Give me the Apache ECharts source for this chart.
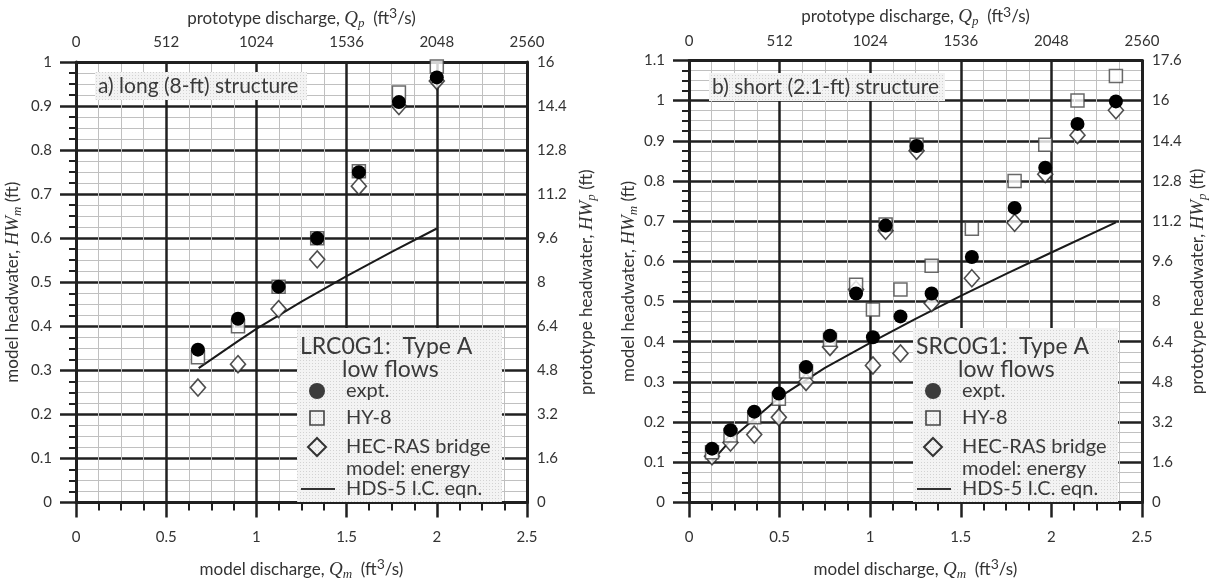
<!DOCTYPE html>
<html>
<head>
<meta charset="utf-8">
<script src="https://cdn.jsdelivr.net/npm/echarts@6/dist/echarts.min.js"></script>
<style>html,body{margin:0;padding:0;background:#fff}#c{width:1211px;height:586px}</style>
</head>
<body>
<div id="c"></div>
<script>
// ---- data ----
// Panel a) long (8-ft) structure
const qmLong     = [0.676, 0.898, 1.123, 1.337, 1.568, 1.79, 2.0];
const exptLong   = [0.347, 0.417, 0.49, 0.60, 0.75, 0.909, 0.965];
const hy8Long    = [0.33, 0.40, 0.49, 0.60, 0.752, 0.931, 0.99];
const hecLong    = [0.261, 0.314, 0.439, 0.552, 0.718, 0.90, 0.957];
const hdsLongQ   = [0.68, 0.9, 1.0, 1.25, 1.5, 1.75, 2.0];
const hdsLongHW  = [0.305, 0.367, 0.394, 0.456, 0.514, 0.569, 0.622];
// Panel b) short (2.1-ft) structure
const qmShort    = [0.127, 0.229, 0.36, 0.496, 0.646, 0.778, 0.922, 1.015, 1.085, 1.167, 1.256, 1.339, 1.561, 1.797, 1.966, 2.144, 2.356];
const exptShort  = [0.134, 0.18, 0.226, 0.271, 0.337, 0.415, 0.52, 0.411, 0.689, 0.463, 0.887, 0.52, 0.611, 0.733, 0.833, 0.942, 0.998];
const hy8Short   = [0.125, 0.167, 0.212, 0.258, 0.326, 0.405, 0.542, 0.48, 0.692, 0.53, 0.89, 0.589, 0.681, 0.80, 0.89, 1.0, 1.061];
const hecShort   = [0.115, 0.149, 0.169, 0.212, 0.30, 0.387, 0.53, 0.341, 0.676, 0.371, 0.875, 0.496, 0.558, 0.696, 0.817, 0.914, 0.976];
const hdsShortQ  = [0.127, 0.25, 0.5, 0.75, 1.0, 1.25, 1.5, 1.75, 2.0, 2.356];
const hdsShortHW = [0.103, 0.165, 0.262, 0.335, 0.397, 0.457, 0.514, 0.569, 0.622, 0.697];
// axis ranges / ticks
const qmMax = 2.5, qmStep = 0.5;
const qpMax = 2560, qpStep = 512;
const hwMaxA = 1.0, hwMaxB = 1.1, hwStep = 0.1;
const hpMaxA = 16, hpMaxB = 17.6, hpStep = 1.6;
const titles = ['a) long (8-ft) structure', 'b) short (2.1-ft) structure'];
const legendTitles = ['LRC0G1:  Type A', 'SRC0G1:  Type A'];
const legendNames = ['expt.', 'HY-8', 'HEC-RAS bridge', 'model: energy', 'HDS-5 I.C. eqn.'];

const F = 'Lato, "Open Sans", sans-serif';
const TXT = '#333';
const rich = {
  n:   {fontFamily: F, fontSize: 17, color: TXT},
  i:   {fontFamily: '"Liberation Serif", serif', fontStyle: 'italic', fontSize: 19, color: TXT},
  sub: {fontFamily: '"Liberation Serif", serif', fontStyle: 'italic', fontSize: 13, color: TXT, padding: [10, 0, 0, 0]},
  sup: {fontFamily: F, fontSize: 14, color: TXT, padding: [0, 0, 10, 0]}
};
const nameStyle = {fontFamily: F, fontSize: 17, color: TXT, rich: rich};
const nameQm = '{n|model discharge, }{i|Q}{sub|m}{n|  (ft}{sup|3}{n|/s)}';
const nameQp = '{n|prototype discharge, }{i|Q}{sub|p}{n|  (ft}{sup|3}{n|/s)}';
const nameHm = '{n|model headwater, }{i|HW}{sub|m}{n| (ft)}';
const nameHp = '{n|prototype headwater, }{i|HW}{sub|p}{n| (ft)}';

const fmt = v => String(+(+v).toFixed(2));
const DARK = '#202020';
const label = {fontFamily: F, fontSize: 15, color: TXT};

function bottomAxis(g) {
  return {type: 'value', gridIndex: g, position: 'bottom', min: 0, max: qmMax, interval: qmStep,
    name: nameQm, nameLocation: 'middle', nameGap: 55, nameTextStyle: nameStyle,
    axisLine: {show: true, onZero: false, lineStyle: {color: DARK, width: 3}},
    axisTick: {show: true, length: 15, lineStyle: {color: DARK, width: 2.5}},
    minorTick: {show: true, splitNumber: 4, length: 8, lineStyle: {color: DARK, width: 2}},
    axisLabel: Object.assign({margin: 27, formatter: fmt}, label),
    splitLine: {show: true, lineStyle: {color: DARK, width: 2.5}},
    minorSplitLine: {show: true, lineStyle: {color: '#c0c0c0', width: 1}}};
}
function topAxis(g) {
  return {type: 'value', gridIndex: g, position: 'top', min: 0, max: qpMax, interval: qpStep,
    name: nameQp, nameLocation: 'middle', nameGap: 31, nameTextStyle: nameStyle,
    axisLine: {show: true, onZero: false, lineStyle: {color: DARK, width: 3}},
    axisTick: {show: false}, axisLabel: Object.assign({margin: 12, formatter: v => String(Math.round(v))}, label),
    splitLine: {show: false}};
}
function leftAxis(g, max) {
  return {type: 'value', gridIndex: g, position: 'left', min: 0, max: max, interval: hwStep,
    name: nameHm, nameLocation: 'middle', nameGap: g === 0 ? 52 : 44, nameRotate: 90, nameTextStyle: nameStyle,
    axisLine: {show: true, onZero: false, lineStyle: {color: DARK, width: 3}},
    axisTick: {show: true, length: 16, lineStyle: {color: DARK, width: 2.5}},
    minorTick: {show: true, splitNumber: 4, length: 7, lineStyle: {color: DARK, width: 2}},
    axisLabel: Object.assign({margin: 24, formatter: fmt}, label),
    splitLine: {show: true, lineStyle: {color: DARK, width: 2.5}},
    minorSplitLine: {show: true, lineStyle: {color: '#c0c0c0', width: 1}}};
}
function rightAxis(g, max) {
  return {type: 'value', gridIndex: g, position: 'right', min: 0, max: max, interval: hpStep,
    name: nameHp, nameLocation: 'middle', nameGap: g === 0 ? 48 : 44, nameRotate: 90, nameTextStyle: nameStyle,
    axisLine: {show: true, onZero: false, lineStyle: {color: DARK, width: 3}},
    axisTick: {show: false}, axisLabel: Object.assign({margin: 10, formatter: fmt}, label),
    splitLine: {show: false}};
}

function pairs(xs, ys) { return xs.map((x, i) => [x, ys[i]]); }

function panelSeries(xi, yi, q, ex, hy, hec, hq, hh) {
  return [
    {type: 'line', xAxisIndex: xi, yAxisIndex: yi, data: pairs(hq, hh), showSymbol: false, smooth: false,
      lineStyle: {color: '#1a1a1a', width: 2}, z: 3, silent: true},
    {type: 'scatter', xAxisIndex: xi, yAxisIndex: yi, data: pairs(q, hec), symbol: 'diamond', symbolSize: [15, 17],
      itemStyle: {color: '#fff', borderColor: '#222', borderWidth: 1.6}, z: 4},
    {type: 'scatter', xAxisIndex: xi, yAxisIndex: yi, data: pairs(q, hy), symbol: 'rect', symbolSize: 13,
      itemStyle: {color: '#fff', borderColor: '#444', borderWidth: 1.5}, z: 5},
    {type: 'scatter', xAxisIndex: xi, yAxisIndex: yi, data: pairs(q, ex), symbol: 'circle', symbolSize: 14,
      itemStyle: {color: '#000', opacity: 1}, z: 6}
  ];
}

// dotted pattern for boxes
function dotPattern() {
  const c = document.createElement('canvas');
  c.width = 3; c.height = 3;
  const ctx = c.getContext('2d');
  ctx.fillStyle = '#f3f3f3'; ctx.fillRect(0, 0, 3, 3);
  ctx.fillStyle = '#d2d2d2'; ctx.fillRect(0, 0, 1, 1);
  return {image: c, repeat: 'repeat'};
}
const pat = dotPattern();

function legendGroup(bx, by, title) {
  const tx = bx + 49, sx = bx + 20;
  const t = (x, y, s, fs) => ({type: 'text', x: x, y: y, z: 51,
    style: {text: s, fontFamily: F, fontSize: fs, fill: '#3a3a3a', verticalAlign: 'middle'}});
  return [
    {type: 'rect', shape: {x: bx, y: by, width: 205, height: 174}, style: {fill: pat, stroke: null}, z: 50},
    t(bx + 3, by + 19, title, 23),
    t(bx + 45, by + 42, 'low flows', 23),
    {type: 'circle', shape: {cx: sx, cy: by + 63, r: 8}, style: {fill: '#3c3c3c'}, z: 51},
    t(tx, by + 63, legendNames[0], 20),
    {type: 'rect', shape: {x: sx - 7, y: by + 83, width: 14, height: 14}, style: {fill: 'none', stroke: '#444', lineWidth: 1.6}, z: 51},
    t(tx, by + 90, legendNames[1], 20),
    {type: 'polygon', shape: {points: [[sx, by + 110], [sx + 9, by + 119], [sx, by + 128], [sx - 9, by + 119]]}, style: {fill: 'none', stroke: '#333', lineWidth: 2}, z: 51},
    t(tx, by + 119, legendNames[2], 20),
    t(tx, by + 141, legendNames[3], 20),
    {type: 'line', shape: {x1: bx + 4, y1: by + 161, x2: bx + 38, y2: by + 161}, style: {stroke: '#333', lineWidth: 2}, z: 51},
    t(tx, by + 161, legendNames[4], 20)
  ];
}
function titleBox(x, y, w, s) {
  return [
    {type: 'rect', shape: {x: x - 3, y: y - 14, width: w, height: 28}, style: {fill: pat}, z: 50},
    {type: 'text', x: x, y: y, z: 51, style: {text: s, fontFamily: F, fontSize: 21, fill: '#3a3a3a', verticalAlign: 'middle'}}
  ];
}

const chart = echarts.init(document.getElementById('c'), null, {renderer: 'canvas'});
chart.setOption({
  animation: false,
  backgroundColor: '#fff',
  grid: [
    {left: 76, top: 62, width: 451, height: 452, containLabel: false},
    {left: 689, top: 60, width: 453, height: 454, containLabel: false}
  ],
  xAxis: [bottomAxis(0), topAxis(0), bottomAxis(1), topAxis(1)],
  yAxis: [leftAxis(0, hwMaxA), rightAxis(0, hpMaxA), leftAxis(1, hwMaxB), rightAxis(1, hpMaxB)],
  series: [].concat(
    panelSeries(0, 0, qmLong, exptLong, hy8Long, hecLong, hdsLongQ, hdsLongHW),
    panelSeries(2, 2, qmShort, exptShort, hy8Short, hecShort, hdsShortQ, hdsShortHW)
  ),
  graphic: [].concat(
    titleBox(98, 86, 212, titles[0]),
    titleBox(712, 87, 236, titles[1]),
    legendGroup(297, 328, legendTitles[0]),
    legendGroup(913, 328, legendTitles[1])
  )
});
</script>
</body>
</html>
